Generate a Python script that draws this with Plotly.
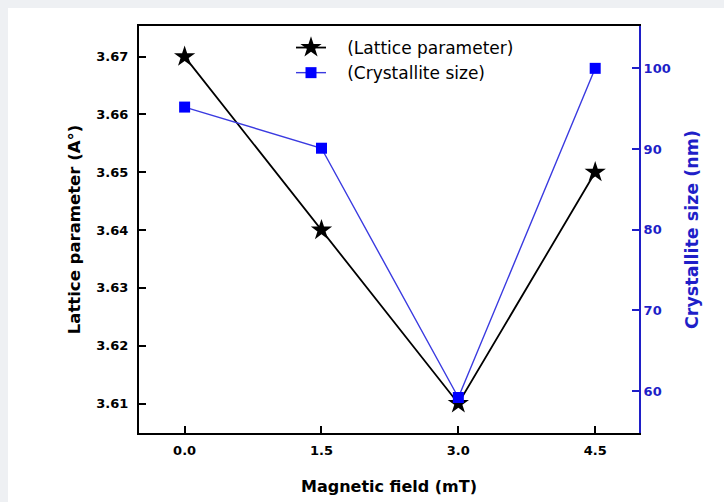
import plotly.graph_objects as go

# ---- data ----
field = [0.0, 1.5, 3.0, 4.5]                 # Magnetic field (mT)
lattice = [3.67, 3.64, 3.61, 3.65]           # Lattice parameter (A°)
crystallite = [95.2, 90.1, 59.2, 100.0]      # Crystallite size (nm)

x_tickvals = [0.0, 1.5, 3.0, 4.5]
x_ticktext = ["0.0", "1.5", "3.0", "4.5"]
lat_tickvals = [3.61, 3.62, 3.63, 3.64, 3.65, 3.66, 3.67]
cry_tickvals = [60, 70, 80, 90, 100]

# ---- styling ----
W, H = 724, 502
ML, MR, MT, MB = 139, 85, 26, 69
PW, PH = W - ML - MR, H - MT - MB
BLUE = "#1f1fc8"
FONT = "DejaVu Sans"
NBSP = "\u00a0"


def px_to_paper_x(px):
    return (px - ML) / PW


def px_to_paper_y(py):
    return (H - MB - py) / PH


fig = go.Figure()
fig.add_trace(go.Scatter(
    x=field, y=lattice, mode="lines+markers",
    name=NBSP * 3 + "(Lattice parameter)",
    line=dict(color="black", width=1.8),
    marker=dict(symbol="star", size=16, color="black", line=dict(width=0)),
))
fig.add_trace(go.Scatter(
    x=field, y=crystallite, mode="lines+markers",
    name=NBSP * 3 + "(Crystallite size)",
    yaxis="y2",
    line=dict(color="#3a3ae0", width=1.4),
    marker=dict(symbol="square", size=11, color="#0000ff", line=dict(width=0)),
))

tick_font = dict(family=FONT, size=13, color="black", weight="bold")

fig.update_layout(
    width=W, height=H,
    margin=dict(l=ML, r=MR, t=MT, b=MB, pad=0, autoexpand=False),
    paper_bgcolor="#eef0f3",
    plot_bgcolor="rgba(0,0,0,0)",
    showlegend=True,
    legend=dict(
        x=px_to_paper_x(291), y=px_to_paper_y(30),
        xanchor="left", yanchor="top",
        bgcolor="rgba(0,0,0,0)", borderwidth=0,
        font=dict(family=FONT, size=17, color="black"),
        itemwidth=30, tracegroupgap=0,
    ),
    xaxis=dict(
        range=[-0.5, 4.98], automargin=False,
        tickvals=x_tickvals, ticktext=x_ticktext,
        ticks="inside", ticklen=7, tickwidth=2, tickcolor="black",
        showline=True, linewidth=2, linecolor="black", mirror=True,
        showgrid=False, zeroline=False,
        tickfont=tick_font, ticklabelstandoff=4,
        title=dict(text="Magnetic field (mT)",
                   font=dict(family=FONT, size=16, color="black", weight="bold"),
                   standoff=24),
    ),
    yaxis=dict(
        range=[3.6049, 3.6753], automargin=False,
        tickvals=lat_tickvals, tickformat=".2f",
        ticks="inside", ticklen=7, tickwidth=2, tickcolor="black",
        showline=True, linewidth=2, linecolor="black", mirror=False,
        showgrid=False, zeroline=False,
        tickfont=tick_font, ticklabelstandoff=6,
        title=dict(text="Lattice parameter (A°)",
                   font=dict(family=FONT, size=16.5, color="black", weight="bold"),
                   standoff=12),
    ),
    yaxis2=dict(
        overlaying="y", side="right", automargin=False,
        range=[54.8, 105.25],
        tickvals=cry_tickvals,
        ticks="inside", ticklen=7, tickwidth=2, tickcolor=BLUE,
        showline=True, linewidth=2, linecolor=BLUE,
        showgrid=False, zeroline=False,
        tickfont=dict(family=FONT, size=13, color=BLUE, weight="bold"),
        ticklabelstandoff=0,
        title=dict(text="Crystallite size (nm)",
                   font=dict(family=FONT, size=17.5, color=BLUE, weight="bold"),
                   standoff=16),
    ),
    shapes=[dict(
        type="rect", xref="paper", yref="paper", layer="below",
        x0=px_to_paper_x(8), x1=px_to_paper_x(W + 2),
        y0=px_to_paper_y(H + 2), y1=px_to_paper_y(8),
        fillcolor="white", line=dict(width=0),
    )],
)

fig.write_html("out.html")
